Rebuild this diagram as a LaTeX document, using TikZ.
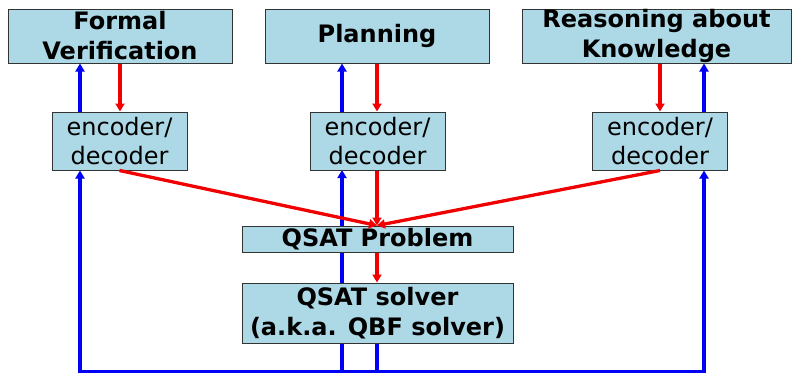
\documentclass[tikz,border=0pt]{standalone}
\usepackage{fontspec}
\setmainfont{DejaVu Sans}
\usetikzlibrary{arrows.meta}
\definecolor{boxfill}{RGB}{173,216,230}
\definecolor{flowred}{RGB}{240,0,0}
\definecolor{flowblue}{RGB}{0,0,245}
\tikzset{
  box/.style={draw=black!80, line width=1pt, fill=boxfill, inner sep=0pt, align=center},
  titlebox/.style={box, font=\fontsize{24}{30}\selectfont\bfseries},
  codecbox/.style={box, font=\fontsize{24}{29}\selectfont, minimum width=135pt, minimum height=58pt},
  tip/.style={-{Triangle[length=8pt,width=9pt]}},
  down/.style={flowred, line width=3.3pt, tip},
  up/.style={flowblue, line width=3.3pt, tip},
  back/.style={flowblue, line width=3.3pt}
}
\begin{document}
\begin{tikzpicture}[x=1pt,y=-1pt]
\useasboundingbox (0,0) rectangle (792,373);

% return paths (drawn first, so the boxes cover them)
\coordinate (bl) at (80,371.5);
\coordinate (bm) at (342,371.5);
\coordinate (bs) at (377,371.5);
\coordinate (br) at (704,371.5);

% application boxes
\node[titlebox, minimum width=224pt, minimum height=54pt] (fv) at (120,36) {Formal\\Verification};
\node[titlebox, minimum width=224pt, minimum height=54pt] (pl) at (377,36) {Planning};
\node[titlebox, minimum width=269pt, minimum height=54pt] (rk) at (656.5,36) {Reasoning about\\Knowledge};

% encoder / decoder boxes
\node[codecbox] (e1) at (119.5,141) {encoder/\\decoder};
\node[codecbox] (e2) at (377.5,141) {encoder/\\decoder};
\node[codecbox] (e3) at (660,141) {encoder/\\decoder};

% blue line behind the solver boxes
\draw[up] (bm) -- (342,170);

% solver boxes
\node[titlebox, minimum width=271pt, minimum height=26pt] (qp) at (377.5,239) {QSAT Problem};
\node[titlebox, minimum width=271pt, minimum height=60pt] (qs) at (377.5,313) {QSAT solver\\(a.k.a. QBF solver)};

% application -> encoder (red) and decoder -> application (blue)
\draw[down] (fv.south -| 120,0) -- (e1.north -| 120,0);
\draw[up] (e1.north -| 80,0) -- (fv.south -| 80,0);
\draw[down] (pl.south -| 377,0) -- (e2.north -| 377,0);
\draw[up] (e2.north -| 342,0) -- (pl.south -| 342,0);
\draw[down] (rk.south -| 660,0) -- (e3.north -| 660,0);
\draw[up] (e3.north -| 704,0) -- (rk.south -| 704,0);

% encoders -> QSAT problem
\draw[down] (e1.south) -- (qp.north -| 377,0);
\draw[down] (e2.south -| 377,0) -- (qp.north -| 377,0);
\draw[down] (e3.south) -- (qp.north -| 377,0);
\draw[down] (qp.south -| 377,0) -- (qs.north -| 377,0);

% solver answer back to the decoders
\draw[back] (qs.south -| 377,0) -- (bs);
\draw[back, line cap=rect] (bl) -- (br);
\draw[up] (bl) -- (e1.south -| bl);
\draw[up] (br) -- (e3.south -| br);
\end{tikzpicture}
\end{document}
